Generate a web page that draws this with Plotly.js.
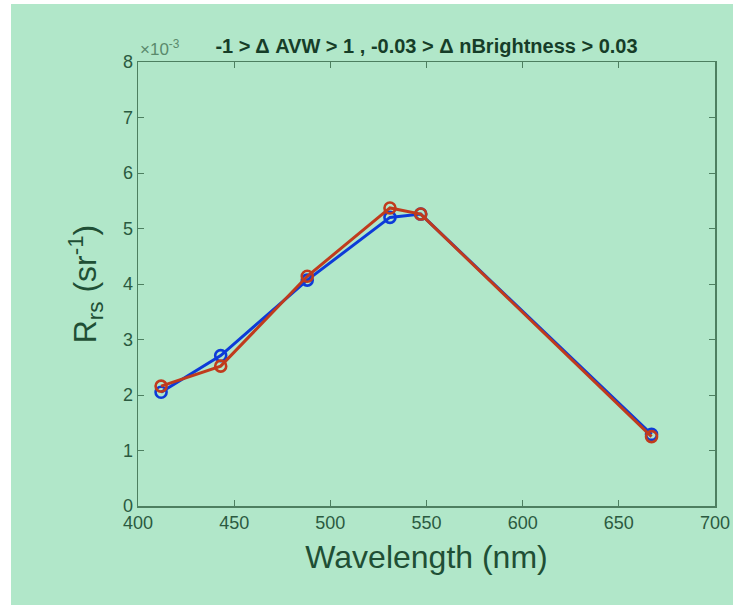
<!DOCTYPE html>
<html>
<head>
<meta charset="utf-8">
<script src="https://cdn.plot.ly/plotly-3.0.1.min.js"></script>
<style>
html,body{margin:0;padding:0;background:#ffffff;width:733px;height:605px;overflow:hidden;}
#chart{position:absolute;left:11px;top:4px;width:722px;height:601px;}
</style>
</head>
<body>
<div id="chart"></div>
<script>
// Data (Rrs in units of 1e-3 sr^-1)
const wavelengths = [412, 443, 488, 531, 547, 667];
const seriesBlue = [2.05, 2.71, 4.07, 5.20, 5.26, 1.29];
const seriesRed  = [2.16, 2.52, 4.14, 5.37, 5.26, 1.25];
const xTicks = [400, 450, 500, 550, 600, 650, 700];
const yTicks = [0, 1, 2, 3, 4, 5, 6, 7, 8];

const axisColor = '#4d7f60';
const textColor = '#2b5a40';
const bg = '#b1e7c9';

const traces = [
  {x: wavelengths, y: seriesBlue, mode: 'lines+markers', type: 'scatter',
   line: {color: '#0d3bd8', width: 3},
   marker: {symbol: 'circle-open', size: 11, color: '#0d3bd8', line: {width: 2.6}}},
  {x: wavelengths, y: seriesRed, mode: 'lines+markers', type: 'scatter',
   line: {color: '#c03b1c', width: 3},
   marker: {symbol: 'circle-open', size: 11, color: '#c03b1c', line: {width: 2.6}}}
];

const layout = {
  width: 722, height: 601,
  paper_bgcolor: bg, plot_bgcolor: bg,
  showlegend: false,
  margin: {l: 127, r: 18, t: 58, b: 99},
  font: {family: 'Liberation Sans, Arial, sans-serif', color: textColor},
  title: {text: '<b>-1 > Δ AVW > 1 , -0.03 > Δ nBrightness > 0.03</b>',
          font: {size: 20, color: '#163d28'}, x: 0.5, xref: 'paper', xanchor: 'center',
          y: 1, yref: 'paper', yanchor: 'bottom', pad: {b: 9}},
  xaxis: {range: [400, 700], tickvals: xTicks, ticktext: xTicks.map(String),
          showgrid: false, zeroline: false, showline: true, linecolor: axisColor, linewidth: 1.5,
          mirror: 'ticks', ticks: 'inside', ticklen: 6, tickcolor: axisColor, tickwidth: 1,
          tickfont: {size: 18, color: textColor},
          title: {text: 'Wavelength (nm)', font: {size: 32, color: '#1f4f35'}, standoff: 13}},
  yaxis: {range: [0, 8], tickvals: yTicks, ticktext: yTicks.map(String),
          showgrid: false, zeroline: false, showline: true, linecolor: axisColor, linewidth: 1.5,
          mirror: 'ticks', ticks: 'inside', ticklen: 6, tickcolor: axisColor, tickwidth: 1,
          tickfont: {size: 18, color: textColor},
          title: {text: 'R<sub>rs</sub> (sr<sup>-1</sup>)', font: {size: 32, color: '#1f4f35'}, standoff: 16}},
  annotations: [
    {text: '×10<sup>-3</sup>', xref: 'paper', yref: 'paper', x: 0, y: 1, xanchor: 'left', yanchor: 'bottom',
     showarrow: false, font: {size: 17, color: '#5a8a6c'}, xshift: 0, yshift: 1}
  ]
};

Plotly.newPlot('chart', traces, layout, {displayModeBar: false, staticPlot: true});
</script>
</body>
</html>
